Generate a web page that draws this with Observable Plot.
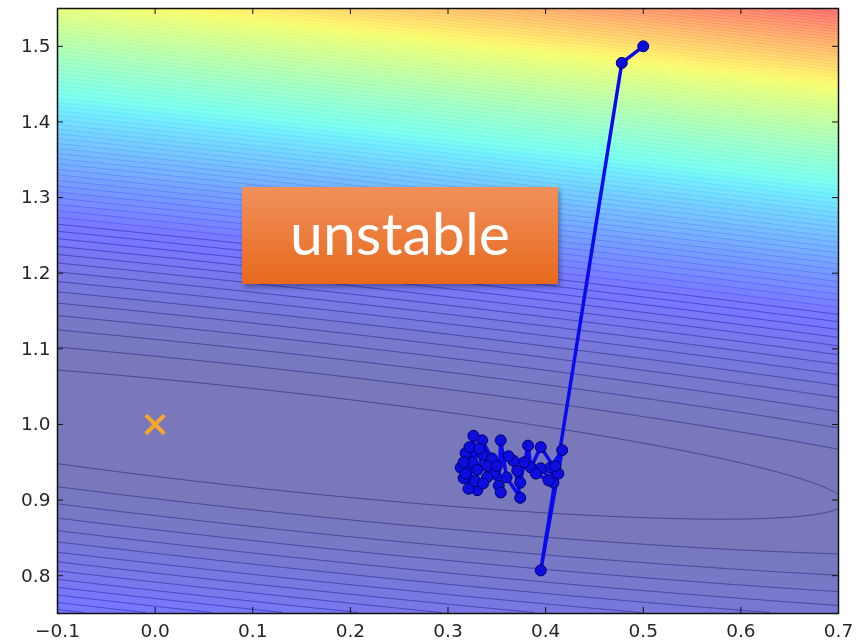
<!DOCTYPE html>
<html><head><meta charset="utf-8">
<script src="https://cdn.jsdelivr.net/npm/d3@7"></script>
<script src="https://cdn.jsdelivr.net/npm/@observablehq/plot@0.6"></script>
<style>
body{margin:0;background:#fff}
#wrap{position:relative;width:867px;height:643px}
#note{position:absolute;left:242px;top:187px;width:316px;height:97px;box-sizing:border-box;
background:linear-gradient(#f0905c,#e8691c);box-shadow:2px 3px 5px rgba(0,0,0,.35);
color:#fff;font-family:Lato,"Open Sans",sans-serif;font-size:59px;display:flex;align-items:center;justify-content:center;padding-bottom:6px}
</style></head><body><div id="wrap"><div id="note">unstable</div></div>
<script>
// ---- tick labels ----
const xTicks = [-0.1, 0.0, 0.1, 0.2, 0.3, 0.4, 0.5, 0.6, 0.7];
const yTicks = [0.8, 0.9, 1.0, 1.1, 1.2, 1.3, 1.4, 1.5];

// ---- gradient descent path ----
const pathX = [0.500, 0.478, 0.395, 0.417, 0.405, 0.395, 0.408, 0.413, 0.395, 0.385, 0.382, 0.374, 0.371, 0.367,
  0.374, 0.360, 0.354, 0.352, 0.347, 0.354, 0.345, 0.335, 0.340, 0.330, 0.326, 0.321, 0.318, 0.316, 0.313,
  0.325, 0.322, 0.330, 0.316, 0.328, 0.335, 0.340, 0.332, 0.318, 0.336, 0.350, 0.362, 0.378, 0.390, 0.403, 0.410];
const pathY = [1.500, 1.478, 0.807, 0.966, 0.943, 0.942, 0.923, 0.935, 0.970, 0.943, 0.972, 0.923, 0.939, 0.952,
  0.903, 0.930, 0.979, 0.919, 0.935, 0.910, 0.955, 0.979, 0.930, 0.913, 0.985, 0.915, 0.962, 0.929, 0.943,
  0.950, 0.970, 0.940, 0.950, 0.925, 0.960, 0.945, 0.968, 0.935, 0.922, 0.945, 0.958, 0.950, 0.935, 0.926, 0.945];

// ---- target marker ----
const targetX = [0.0];
const targetY = [1.0];

// ---- loss surface parameters (valley) ----
const valleyIntercept = 0.996;
const valleySlope = -0.14;
const valleyCenterX = 0.1;
const valleyWidthCoef = 0.0117;
const firstLevel = 0.0043;
const levelStep = 0.0047;
const levelCount = 92;
const colorDomain = [0.005, 0.47];
const fillAlpha = 0.53;

const loss = (w, b) => (b - (valleyIntercept + valleySlope * w)) ** 2 + valleyWidthCoef * (w - valleyCenterX) ** 2;
const levels = d3.range(levelCount).map(j => firstLevel + j * levelStep);

// matplotlib "jet" colormap blended with white (alpha)
const chan = (d, r) => d3.scaleLinear().domain(d).range(r).clamp(true);
const jr = chan([0, 0.35, 0.66, 0.89, 1], [0, 0, 1, 1, 0.5]);
const jg = chan([0, 0.125, 0.375, 0.64, 0.91, 1], [0, 0, 1, 1, 0, 0]);
const jb = chan([0, 0.11, 0.34, 0.65, 1], [0.5, 1, 1, 0, 0]);
const blend = v => Math.round(255 * (1 - fillAlpha) + 255 * fillAlpha * v);
const jet = t => `rgb(${blend(jr(t))},${blend(jg(t))},${blend(jb(t))})`;

const path = pathX.map((x, i) => ({x, y: pathY[i]}));
const target = targetX.map((x, i) => ({x, y: targetY[i]}));
const fmt = d => (d < 0 ? "\u2212" : "") + Math.abs(d).toFixed(1);

const W = 867, H = 643, mL = 57, mR = 29, mT = 8, mB = 30;
const innerH = H - mT - mB, innerW = W - mL - mR;

const chart = Plot.plot({
  width: W, height: H,
  marginLeft: mL, marginRight: mR, marginTop: mT, marginBottom: mB,
  style: {fontFamily: "DejaVu Sans", fontSize: "18.5px", color: "#262626", background: "transparent"},
  x: {domain: [-0.1, 0.7]},
  y: {domain: [0.75, 1.55]},
  color: {type: "linear", domain: colorDomain, interpolate: jet, clamp: true},
  marks: [
    Plot.contour({x1: -0.1, x2: 0.7, y1: 0.75, y2: 1.55, value: loss, thresholds: [0, ...levels], fill: "value", stroke: "none", pixelSize: 2}),
    Plot.contour({x1: -0.1, x2: 0.7, y1: 0.75, y2: 1.55, value: loss, thresholds: levels, fill: "none", stroke: "value", strokeWidth: 0.8, strokeOpacity: 0.55, mixBlendMode: "multiply", pixelSize: 2}),
    Plot.contour({x1: -0.1, x2: 0.7, y1: 0.75, y2: 1.55, value: loss, thresholds: levels.slice(0, 14), fill: "none", stroke: "#1a1a5e", strokeWidth: 0.8, strokeOpacity: 0.35, pixelSize: 2}),
    Plot.line(path, {x: "x", y: "y", stroke: "#0a0af0", strokeWidth: 3.5}),
    Plot.dot(path, {x: "x", y: "y", r: 5.5, fill: "#0d0de0", stroke: "#00006a", strokeWidth: 1}),
    Plot.dot(target, {x: "x", y: "y", symbol: "times", r: 8.5, stroke: "#f5a52a", strokeWidth: 4}),
    Plot.frame({stroke: "#111", strokeWidth: 1.5}),
    Plot.tickX(xTicks, {x: d => d, insetTop: innerH - 6, stroke: "#111"}),
    Plot.tickX(xTicks, {x: d => d, insetBottom: innerH - 6, stroke: "#111"}),
    Plot.tickY(yTicks, {y: d => d, insetRight: innerW - 6, stroke: "#111"}),
    Plot.tickY(yTicks, {y: d => d, insetLeft: innerW - 6, stroke: "#111"}),
    Plot.axisX({ticks: xTicks, tickSize: 0, tickPadding: 10, tickFormat: fmt, fontSize: 18.5, label: null}),
    Plot.axisY({ticks: yTicks, tickSize: 0, tickPadding: 7, tickFormat: fmt, fontSize: 18.5, label: null})
  ]
});
chart.style.position = "absolute";
chart.style.left = "0px";
chart.style.top = "0px";
const wrap = document.getElementById("wrap");
wrap.insertBefore(chart, wrap.firstChild);
</script>
</body></html>
